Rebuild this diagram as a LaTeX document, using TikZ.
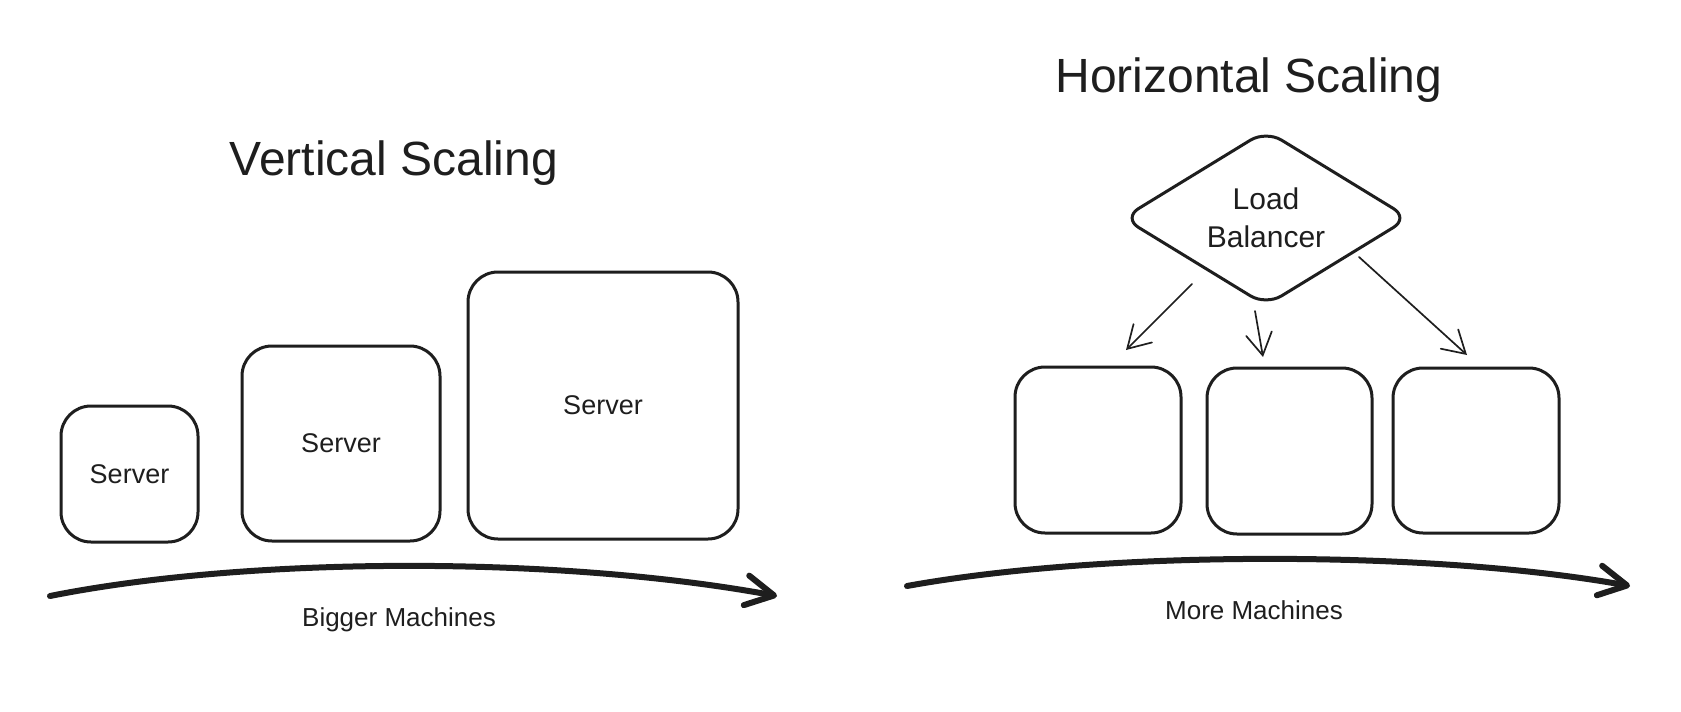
\documentclass[tikz,border=0pt]{standalone}
\usepackage{fontspec}
\setmainfont{Liberation Sans}
\usetikzlibrary{arrows.meta,shapes.geometric}
\definecolor{ink}{HTML}{1E1E1E}
\begin{document}
\begin{tikzpicture}[x=1pt,y=-1pt,
  server/.style={draw=ink, line width=3pt, rounded corners=30pt, inner sep=0pt,
    text=ink, font=\fontsize{27}{32}\selectfont},
  lbbox/.style={diamond, draw=ink, line width=3pt, rounded corners=18pt, inner sep=0pt,
    aspect=1.64, align=center, text=ink, font=\fontsize{30}{38}\selectfont},
  titletext/.style={text=ink, inner sep=0pt, font=\fontsize{48}{56}\selectfont},
  lbl/.style={text=ink, inner sep=0pt, font=\fontsize{26}{30}\selectfont},
  thinarrow/.style={draw=ink, line width=1.7pt, line cap=round,
    -{Straight Barb[length=22pt,width=26pt,line cap=round]}},
  bigarrow/.style={draw=ink, line width=6pt, line cap=round,
    -{Straight Barb[length=28pt,width=30pt,line cap=round,line join=round]}}
]
\useasboundingbox (0,0) rectangle (1681,712);
\fill[white] (0,0) rectangle (1681,712);

% Vertical scaling
\node[titletext, anchor=base] (vt) at (394,175) {Vertical Scaling};
\node[server, minimum width=137pt, minimum height=136pt] (v1) at (129.5,474) {Server};
\node[server, minimum width=198pt, minimum height=195pt] (v2) at (341,443.5) {Server};
\node[server, minimum width=270pt, minimum height=267pt] (v3) at (603,405.5) {Server};
\coordinate (l1s) at (50,596);
\coordinate (l1e) at (777,596);
\draw[bigarrow] (l1s) .. controls (250,556) and (560,556) .. (l1e);
\node[lbl, anchor=base] (bm) at (399,626) {Bigger Machines};

% Horizontal scaling
\node[titletext, anchor=base] (ht) at (1249,92) {Horizontal Scaling};
\node[lbbox, minimum width=287pt, minimum height=176pt] (lb) at (1266,218) {Load\\Balancer};
\node[server, minimum width=166pt, minimum height=166pt] (h1) at (1098,450) {};
\node[server, minimum width=165pt, minimum height=166pt] (h2) at (1289.5,451) {};
\node[server, minimum width=166pt, minimum height=165pt] (h3) at (1476,450.5) {};
\coordinate (a1s) at (1192,284);
\coordinate (a1e) at (1126,350);
\coordinate (a2s) at (1255,311);
\coordinate (a2e) at (1263,357);
\coordinate (a3s) at (1359,257);
\coordinate (a3e) at (1467,355);
\draw[thinarrow] (a1s) -- (a1e);
\draw[thinarrow] (a2s) -- (a2e);
\draw[thinarrow] (a3s) -- (a3e);
\coordinate (r1s) at (907,586);
\coordinate (r1e) at (1630,586);
\draw[bigarrow] (r1s) .. controls (1105,550) and (1430,550) .. (r1e);
\node[lbl, anchor=base] (mm) at (1254,619) {More Machines};
\end{tikzpicture}
\end{document}
